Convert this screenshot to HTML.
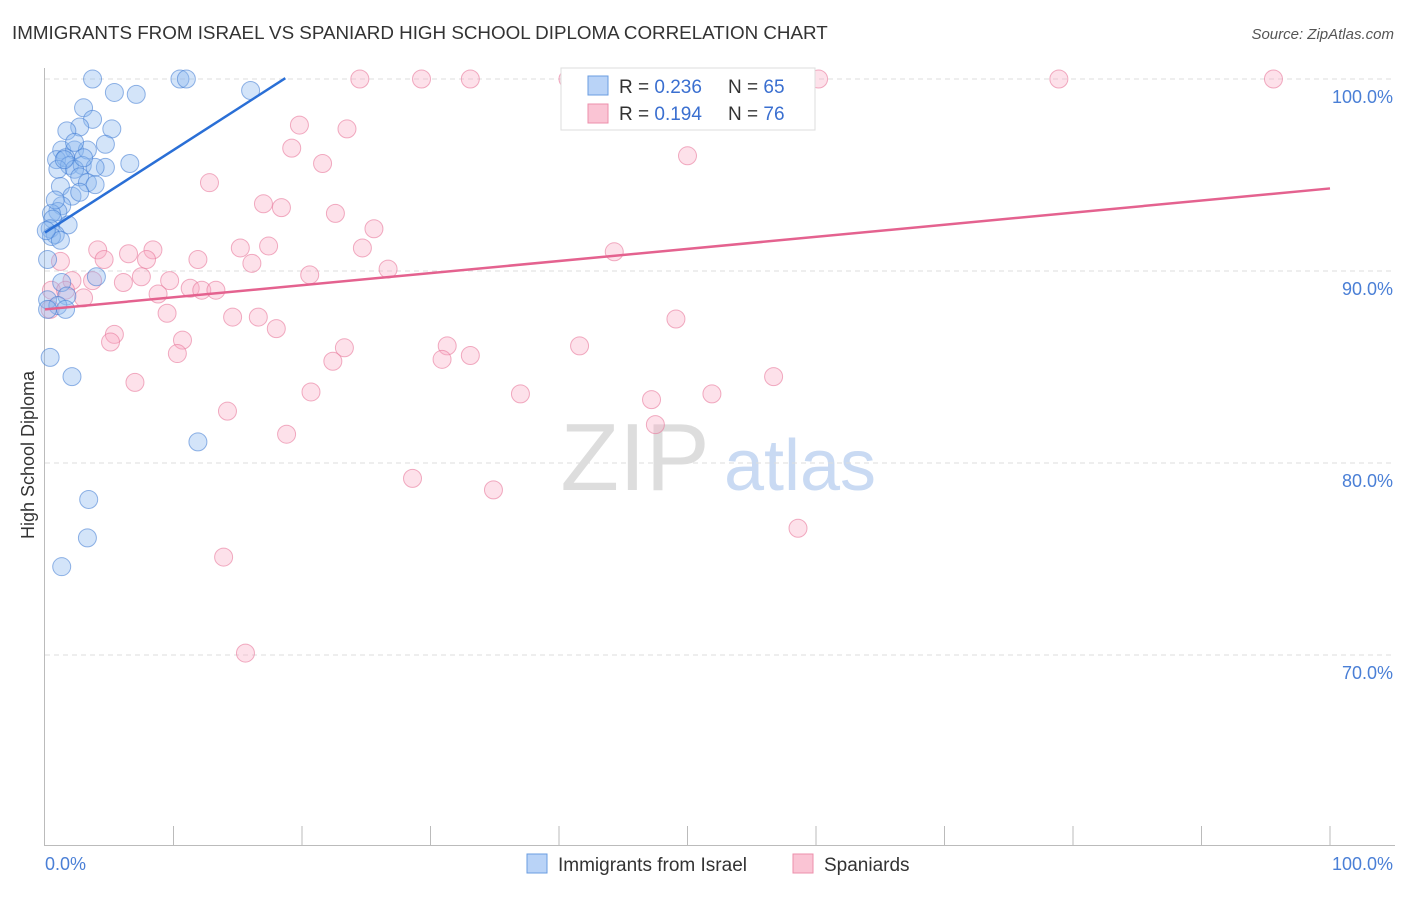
<!DOCTYPE html>
<html><head><meta charset="utf-8"><style>
body{margin:0;background:#fff;font-family:"Liberation Sans",sans-serif}
svg text{font-family:"Liberation Sans",sans-serif}
</style></head><body>
<svg id="c" width="1406" height="892">
<text x="12" y="39" font-size="18.8" fill="#333">IMMIGRANTS FROM ISRAEL VS SPANIARD HIGH SCHOOL DIPLOMA CORRELATION CHART</text>
<text x="1394" y="39" font-size="15" fill="#555" font-style="italic" text-anchor="end">Source: ZipAtlas.com</text>
<text x="635" y="490" font-size="96" fill="#ddd" font-family="Liberation Serif" text-anchor="middle">ZIP</text>
<text x="800" y="490" font-size="72" fill="#c9daf3" text-anchor="middle">atlas</text>
<text transform="translate(34,455) rotate(-90)" font-size="18" fill="#333" text-anchor="middle">High School Diploma</text>
<g id="grid"></g><g id="pts"></g><g id="lines"></g>
<g>
<rect x="561" y="68" width="254" height="62" fill="#fff" stroke="#ddd"/>
<rect x="588" y="76" width="20" height="19" fill="#b9d3f7" stroke="#6a9de0"/>
<rect x="588" y="104" width="20" height="19" fill="#fac4d4" stroke="#ec8fab"/>
<text x="619" y="93" font-size="19" fill="#333">R = <tspan fill="#3a6fd0">0.236</tspan></text>
<text x="728" y="93" font-size="19" fill="#333">N = <tspan fill="#3a6fd0">65</tspan></text>
<text x="619" y="120" font-size="19" fill="#333">R = <tspan fill="#3a6fd0"> 0.194</tspan></text>
<text x="728" y="120" font-size="19" fill="#333">N = <tspan fill="#3a6fd0">76</tspan></text>
</g>
<g>
<rect x="527" y="854" width="20" height="19" fill="#b9d3f7" stroke="#6a9de0"/>
<text x="558" y="871" font-size="19" fill="#333">Immigrants from Israel</text>
<rect x="793" y="854" width="20" height="19" fill="#fac4d4" stroke="#ec8fab"/>
<text x="824" y="871" font-size="19" fill="#333">Spaniards</text>
</g>
<text x="45" y="870" font-size="18" fill="#4a7fd6">0.0%</text>
<text x="1393" y="870" font-size="18" fill="#4a7fd6" text-anchor="end">100.0%</text>
</svg>
<script>
const yTicks=[100,90,80,70];
const israelX=[3.7,10.5,11.0,16.0,5.4,7.1,3.0,3.7,2.7,5.2,1.7,4.7,1.3,2.3,3.3,6.6,0.9,1.6,1.9,1.0,2.9,4.7,3.9,2.3,2.7,3.3,3.9,1.2,2.1,2.7,1.3,1.0,0.5,0.6,1.8,0.4,0.8,0.5,0.2,4.0,1.3,1.7,0.2,1.0,1.6,0.2,0.4,2.1,11.9,3.4,3.3,1.3,1.5,3.0,0.8,1.2,2.3,0.1];
const israelY=[100,100,100,99.4,99.3,99.2,98.5,97.9,97.5,97.4,97.3,96.6,96.3,96.3,96.3,95.6,95.8,95.9,95.5,95.3,95.5,95.4,95.4,95.3,94.9,94.6,94.5,94.4,93.9,94.1,93.4,93.1,93.0,92.7,92.4,92.2,91.9,91.8,90.6,89.7,89.4,88.7,88.5,88.2,88.0,88.0,85.5,84.5,81.1,78.1,76.1,74.6,95.8,95.9,93.7,91.6,96.7,92.1];
const spainX=[24.5,29.3,33.1,40.7,49.4,60.2,78.9,95.6,19.8,23.5,19.2,21.6,50.0,12.8,17.0,18.4,22.6,25.6,4.1,6.5,8.4,15.2,17.4,24.7,44.3,4.6,7.9,11.9,16.1,1.2,26.7,7.5,20.6,9.7,2.1,6.1,3.7,11.3,12.2,13.3,8.8,3.0,0.5,0.4,9.5,14.6,16.6,18.0,5.4,5.1,10.7,49.1,23.3,31.3,41.6,10.3,22.4,30.9,33.1,7.0,20.7,37.0,47.2,51.9,56.7,14.2,47.5,18.8,28.6,34.9,58.6,13.9,15.6,1.6];
const spainY=[100,100,100,100,100,100,100,100,97.6,97.4,96.4,95.6,96.0,94.6,93.5,93.3,93.0,92.2,91.1,90.9,91.1,91.2,91.3,91.2,91.0,90.6,90.6,90.6,90.4,90.5,90.1,89.7,89.8,89.5,89.5,89.4,89.5,89.1,89.0,89.0,88.8,88.6,89.0,88.0,87.8,87.6,87.6,87.0,86.7,86.3,86.4,87.5,86.0,86.1,86.1,85.7,85.3,85.4,85.6,84.2,83.7,83.6,83.3,83.6,84.5,82.7,82.0,81.5,79.2,78.6,76.6,75.1,70.1,89.0];
const israelTrend=[92.0,0.43,0,18.7];
const spainTrend=[88.0,0.063,0,100];
const X=v=>45+v*12.85, Y=v=>79+(100-v)*19.2;
const NS='http://www.w3.org/2000/svg';
function mk(t,a,p){const e=document.createElementNS(NS,t);for(const k in a)e.setAttribute(k,a[k]);p.appendChild(e);return e;}
const grid=document.getElementById('grid');
yTicks.forEach(t=>{
 const l=mk('line',{x1:45,x2:1395,y1:Y(t),y2:Y(t),stroke:'#ddd','stroke-dasharray':'5,4'},grid);
 
 
 const tx=mk('text',{x:1393,y:Y(t)+24,'font-size':18,fill:'#4a7fd6','text-anchor':'end'},grid);
 tx.textContent=t.toFixed(1)+'%';
 
 
});
mk('line',{x1:44.5,x2:44.5,y1:68,y2:845,stroke:'#bbb'},grid);
mk('line',{x1:44,x2:1395,y1:845.5,y2:845.5,stroke:'#bbb'},grid);
for(let i=1;i<=10;i++){const t=mk('line',{x1:X(i*10),x2:X(i*10),y1:826,y2:845,stroke:'#bbb'},grid);
 
 }
const pts=document.getElementById('pts');
spainX.forEach((x,i)=>{const c=mk('circle',{cx:X(x),cy:Y(spainY[i]),r:9,fill:'rgba(248,170,195,0.35)',stroke:'rgba(232,120,155,0.6)'},pts);
 
 });
israelX.forEach((x,i)=>{const c=mk('circle',{cx:X(x),cy:Y(israelY[i]),r:9,fill:'rgba(140,185,240,0.38)',stroke:'rgba(60,120,210,0.55)'},pts);
 
 });
const lines=document.getElementById('lines');
[[israelTrend,'#2a6fd6','israel-trendline'],[spainTrend,'#e4628f','spaniards-trendline']].forEach(([t,col,n])=>{
 const l=mk('line',{x1:X(t[2]),y1:Y(t[0]+t[1]*t[2]),x2:X(t[3]),y2:Y(t[0]+t[1]*t[3]),stroke:col,'stroke-width':2.5},lines);
 
 
});
</script>
</body></html>
